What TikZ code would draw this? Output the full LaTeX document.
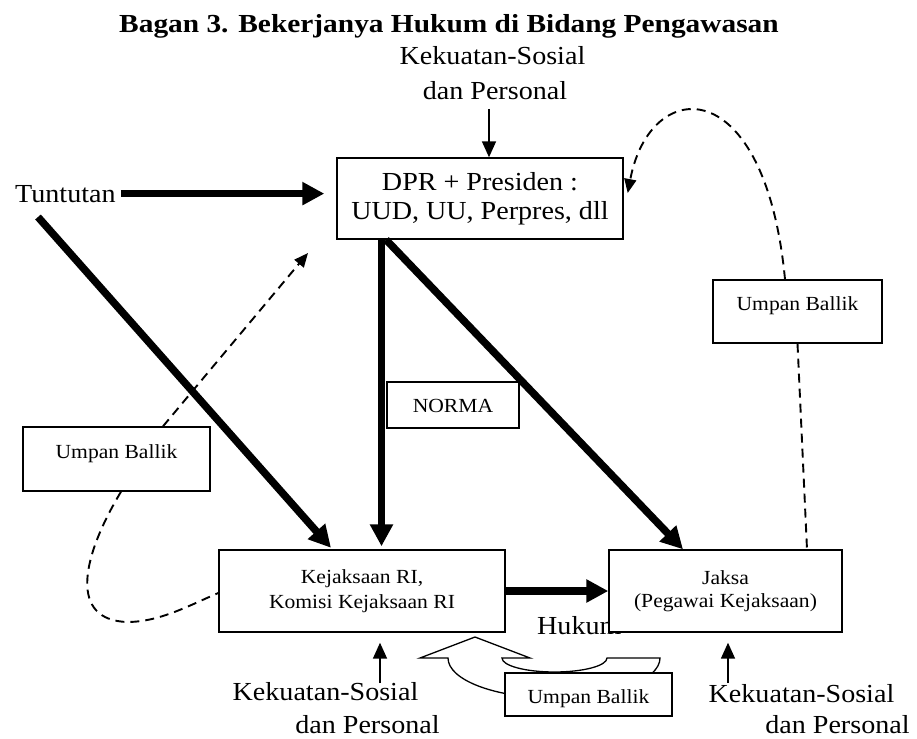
\documentclass[tikz,border=0pt]{standalone}
\usepackage{fontspec}
\setmainfont{Liberation Serif}[FakeStretch=1.08]
\newfontfamily\titlefont{Liberation Serif}[FakeStretch=1.13]
\usetikzlibrary{arrows.meta,calc}
\begin{document}
\begin{tikzpicture}[x=1pt,y=-1pt,
  big/.style={font=\fontsize{26}{29}\selectfont, inner sep=0pt},
  small/.style={font=\fontsize{20}{24}\selectfont, inner sep=0pt},
  box/.style={draw, line width=1.4pt, fill=white, align=center, inner sep=0pt},
  thickarrow/.style={line width=7.5pt, -{Triangle[length=22pt,width=22pt]}},
  thinarrow/.style={line width=1.6pt, -{Triangle[length=16pt,width=14pt]}},
  fbdash/.style={line width=1.9pt, dash pattern=on 9pt off 6pt},
  fbarrow/.style={fbdash, -{Triangle[length=14pt,width=12pt]}},
  fbtext/.style={box, small, text height=13.7pt}
]
\fill[white] (0,0) rectangle (917,738);
\useasboundingbox (0,0) rectangle (917,738);

% texts
\node[inner sep=0pt, font=\titlefont\bfseries\fontsize{26}{30}\selectfont, anchor=base] (title) at (449,33) {Bagan 3. Bekerjanya Hukum di Bidang Pengawasan};
\node[big, anchor=base] (tk1) at (492.5,65) {Kekuatan-Sosial};
\node[big, anchor=base] (tk2) at (495,100) {dan Personal};
\node[big, anchor=base west] (tunt) at (15,202) {Tuntutan};
\node[big, anchor=base] (bl1) at (325.5,700) {Kekuatan-Sosial};
\node[big, anchor=base] (bl2) at (367.5,733) {dan Personal};
\node[big, anchor=base] (br1) at (801.5,702) {Kekuatan-Sosial};
\node[big, anchor=base] (br2) at (837.5,733) {dan Personal};
\node[big, anchor=base west] (hukum) at (537,634) {Hukum};

% boxes
\node[box, big, minimum width=286pt, minimum height=81pt] (dpr) at (480,198.5) {DPR + Presiden :\\UUD, UU, Perpres, dll};
\node[box, font=\fontsize{20}{25}\selectfont, minimum width=286pt, minimum height=82pt] (kej) at (362,591) {Kejaksaan RI,\\Komisi Kejaksaan RI};
\node[box, font=\fontsize{20}{23}\selectfont, minimum width=233pt, minimum height=82pt] (jaksa) at (725.5,591) {Jaksa\\(Pegawai Kejaksaan)};
\node[fbtext, text depth=14pt, minimum width=187pt, minimum height=64pt] (lbox) at (116.5,459) {Umpan Ballik};
\node[fbtext, text depth=16.7pt, minimum width=169pt, minimum height=63pt] (ubr) at (797.5,311.5) {Umpan Ballik};

% thin arrows
\coordinate (ta) at (489,109);
\draw[thinarrow] (ta) -- (ta |- dpr.north);
\coordinate (la) at (380,683);
\draw[thinarrow, shorten >=10pt] (la) -- (la |- kej.south);
\coordinate (ra) at (728,683);
\draw[thinarrow, shorten >=10pt] (ra) -- (ra |- jaksa.south);

% thick arrows
\draw[thickarrow, shorten >=12pt] ([xshift=5pt]tunt.east) -- (tunt.east -| dpr.west);
\coordinate (d1s) at (38,217);
\draw[thickarrow, shorten >=2pt] (d1s) -- ([xshift=114pt]kej.north west);
\coordinate (vx) at (381.5,0);
\draw[thickarrow, shorten >=3pt] (dpr.south -| vx) -- (kej.north -| vx);
\draw[thickarrow] ([xshift=-94pt]dpr.south) -- ([xshift=-42.5pt]jaksa.north);
\draw[thickarrow] (kej.east) -- (jaksa.west);

\node[box, small, text height=14pt, text depth=0pt, minimum width=132pt, minimum height=46pt] (norma) at (453,405) {NORMA};

% dashed feedback
\draw[fbarrow] ([xshift=-12.5pt]ubr.north) .. controls (765,70) and (650,75) .. ($(dpr.east)+(4,-5.5)$);
\draw[fbdash] (ubr.south) -- ([xshift=81.5pt]jaksa.north);
\coordinate (fbt) at (308,253);
\draw[fbarrow] ([xshift=46.5pt]lbox.north) -- (fbt);
\draw[fbdash] ([xshift=4.5pt]lbox.south) .. controls (80,560) and (70,620) .. (127,622) .. controls (160,622) and (190,605) .. ([yshift=-2pt]kej.west);

% curved block arrow
\draw[line width=1.3pt, fill=white] (502,658) .. controls (502,665.7) and (525.5,672) .. (554.5,672) .. controls (583.5,672) and (607,665.7) .. (607,658) -- (660,658) .. controls (660,680.1) and (612.5,698) .. (554,698) .. controls (495.5,698) and (448,680.1) .. (448,658) -- (420,658) -- (475,637) -- (530,658) -- cycle;
\node[fbtext, text height=17pt, text depth=0pt, minimum width=167pt, minimum height=43pt] (ubot) at (588.5,694.5) {Umpan Ballik};
\end{tikzpicture}
\end{document}
